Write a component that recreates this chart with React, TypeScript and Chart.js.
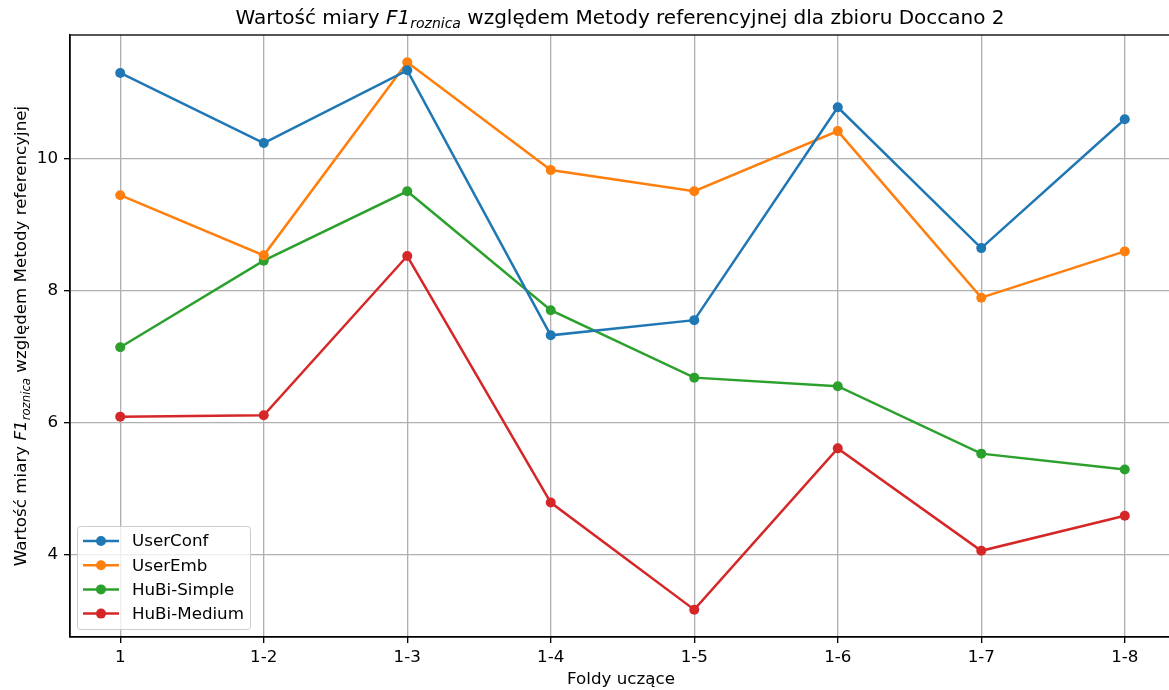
import React, { useEffect, useRef } from "react";
import { Chart, registerables } from "chart.js";

Chart.register(...registerables);

const categories = ["1", "1-2", "1-3", "1-4", "1-5", "1-6", "1-7", "1-8"];
const userConf = [11.29, 10.23, 11.33, 7.32, 7.55, 10.77, 8.64, 10.59];
const userEmb = [9.44, 8.53, 11.45, 9.82, 9.5, 10.41, 7.89, 8.59];
const hubiSimple = [7.14, 8.45, 9.5, 7.7, 6.68, 6.55, 5.53, 5.29];
const hubiMedium = [6.09, 6.11, 8.52, 4.79, 3.17, 5.61, 4.06, 4.59];
const seriesNames = ["UserConf", "UserEmb", "HuBi-Simple", "HuBi-Medium"];
const seriesColors = ["#1f77b4", "#ff7f0e", "#2ca02c", "#d62728"];
const yTicks = [4, 6, 8, 10];

const FONT = '"DejaVu Sans", sans-serif';
const FS = 16.7;

type Part = { text: string; italic?: boolean; sub?: boolean };

function drawRich(ctx: CanvasRenderingContext2D, parts: Part[], cx: number, y: number, size: number) {
  const fontFor = (p: Part) => {
    const s = p.sub ? size * 0.7 : size;
    return `${p.italic ? "italic " : ""}${s}px ${FONT}`;
  };
  let total = 0;
  const widths = parts.map((p) => {
    ctx.font = fontFor(p);
    const w = ctx.measureText(p.text).width;
    total += w;
    return w;
  });
  let x = cx - total / 2;
  ctx.textAlign = "left";
  ctx.textBaseline = "alphabetic";
  parts.forEach((p, i) => {
    ctx.font = fontFor(p);
    ctx.fillText(p.text, x, y + (p.sub ? size * 0.22 : 0));
    x += widths[i];
  });
}

const annotPlugin = {
  id: "annot",
  afterDatasetsDraw(chart: any) {
    const ctx: CanvasRenderingContext2D = chart.ctx;
    const a = chart.chartArea;
    ctx.save();
    // frame
    ctx.strokeStyle = "#000";
    ctx.lineWidth = 1.33;
    ctx.strokeRect(a.left, a.top, a.right - a.left, a.bottom - a.top);
    ctx.fillStyle = "#000";
    // title
    drawRich(
      ctx,
      [
        { text: "Wartość miary " },
        { text: "F1", italic: true },
        { text: "roznica", italic: true, sub: true },
        { text: " względem Metody referencyjnej dla zbioru Doccano 2" },
      ],
      620,
      24,
      20
    );
    // x label
    drawRich(ctx, [{ text: "Foldy uczące" }], 621, 684, FS);
    // y label
    ctx.save();
    ctx.translate(26, (a.top + a.bottom) / 2);
    ctx.rotate(-Math.PI / 2);
    drawRich(
      ctx,
      [
        { text: "Wartość miary " },
        { text: "F1", italic: true },
        { text: "roznica", italic: true, sub: true },
        { text: " względem Metody referencyjnej" },
      ],
      0,
      0,
      FS
    );
    ctx.restore();
    // legend
    const lx = 77, ly = 526, lw = 173, lh = 103;
    ctx.fillStyle = "rgba(255,255,255,0.8)";
    ctx.strokeStyle = "#cccccc";
    ctx.lineWidth = 1;
    ctx.beginPath();
    (ctx as any).roundRect(lx + 0.5, ly + 0.5, lw, lh, 3);
    ctx.fill();
    ctx.stroke();
    chart.data.datasets.forEach((ds: any, i: number) => {
      const yy = 541 + i * 24.2;
      ctx.strokeStyle = ds.borderColor;
      ctx.lineWidth = 2.5;
      ctx.beginPath();
      ctx.moveTo(83, yy);
      ctx.lineTo(119, yy);
      ctx.stroke();
      ctx.fillStyle = ds.borderColor;
      ctx.beginPath();
      ctx.arc(101, yy, 5, 0, Math.PI * 2);
      ctx.fill();
      ctx.fillStyle = "#000";
      ctx.font = `${FS}px ${FONT}`;
      ctx.textAlign = "left";
      ctx.textBaseline = "middle";
      ctx.fillText(ds.label, 132, yy + 1);
    });
    ctx.restore();
  },
};

export default function App() {
  const ref = useRef<HTMLCanvasElement>(null);
  useEffect(() => {
    document.body.style.overflow = "hidden";
    const all = [...userConf, ...userEmb, ...hubiSimple, ...hubiMedium];
    const mn = Math.min(...all), mx = Math.max(...all);
    const m = (mx - mn) * 0.05;
    const series = [userConf, userEmb, hubiSimple, hubiMedium];
    const chart = new Chart(ref.current!, {
      type: "line",
      data: {
        datasets: series.map((vals, i) => ({
          label: seriesNames[i],
          data: vals.map((v, j) => ({ x: j + 1, y: v })),
          borderColor: seriesColors[i],
          backgroundColor: seriesColors[i],
          pointBackgroundColor: seriesColors[i],
          pointBorderColor: seriesColors[i],
          pointRadius: 5,
          pointBorderWidth: 0,
          borderWidth: 2.5,
          tension: 0,
          fill: false,
        })),
      },
      options: {
        animation: false,
        responsive: true,
        maintainAspectRatio: false,
        layout: { padding: { left: 0, right: 0, top: 35, bottom: 0 } },
        plugins: { legend: { display: false }, title: { display: false }, tooltip: { enabled: false } },
        scales: {
          x: {
            type: "linear",
            min: 0.65,
            max: categories.length + 0.35,
            afterBuildTicks: (s: any) => {
              s.ticks = categories.map((_, i) => ({ value: i + 1 }));
            },
            afterFit: (s: any) => {
              s.height = 53;
              s.paddingLeft = 0;
              s.paddingRight = 0;
            },
            ticks: {
              callback: (v: any) => categories[Number(v) - 1],
              color: "#000",
              font: { family: FONT, size: FS },
              padding: 5,
              maxRotation: 0,
              autoSkip: false,
            },
            grid: { color: "#b0b0b0", lineWidth: 1.33, tickColor: "#000", tickLength: 6, tickWidth: 1.33 },
            border: { display: true, color: "#000", width: 1.33 },
          },
          y: {
            type: "linear",
            min: mn - m,
            max: mx + m,
            afterBuildTicks: (s: any) => {
              s.ticks = yTicks.map((v) => ({ value: v }));
            },
            afterFit: (s: any) => {
              s.width = 70;
              s.paddingTop = 0;
              s.paddingBottom = 0;
            },
            ticks: {
              color: "#000",
              font: { family: FONT, size: FS },
              padding: 6,
            },
            grid: { color: "#b0b0b0", lineWidth: 1.33, tickColor: "#000", tickLength: 6, tickWidth: 1.33 },
            border: { display: true, color: "#000", width: 1.33 },
          },
        },
      } as any,
      plugins: [annotPlugin],
    });
    return () => chart.destroy();
  }, []);
  return (
    <div style={{ position: "fixed", left: 0, top: 0, width: 1180, height: 690, background: "#fff" }}>
      <canvas ref={ref} />
    </div>
  );
}
